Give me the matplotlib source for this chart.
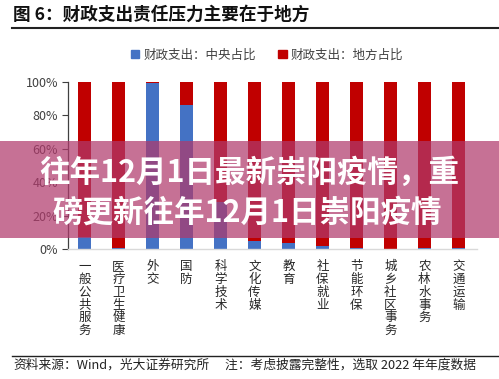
import matplotlib
matplotlib.use("Agg")
import matplotlib.pyplot as plt
import numpy as np
from matplotlib.patches import Patch, Rectangle
from matplotlib.lines import Line2D

plt.rcParams["font.family"] = ["Noto Sans CJK SC", "DejaVu Sans"]

# ========= 数据 =========
categories = ["一般公共服务", "医疗卫生健康", "外交", "国防", "科学技术", "文化传媒",
              "教育", "社保就业", "节能环保", "城乡社区事务", "农林水事务", "交通运输"]
central_share = [7.0, 0.8, 99.5, 86.0, 28.0, 4.5, 3.8, 2.0, 0.8, 0.3, 0.8, 0.8]
local_share = [100 - v for v in central_share]
yticks = [0, 20, 40, 60, 80, 100]

title = "图 6：财政支出责任压力主要在于地方"
legend_labels = ["财政支出：中央占比", "财政支出：地方占比"]
banner_lines = ["往年12月1日最新崇阳疫情，重", "磅更新往年12月1日崇阳疫情"]
source = "资料来源：Wind，光大证券研究所"
note = "注：考虑披露完整性，选取 2022 年年度数据"

blue = "#4472C4"
red = "#C00000"

# ========= 绘图 =========
fig = plt.figure(figsize=(4.99, 3.79), dpi=100)
ax = fig.add_axes([0.136, 0.343, 0.82, 0.441])

x = np.arange(len(categories))
ax.bar(x, central_share, width=0.39, color=blue, zorder=2)
ax.bar(x, local_share, width=0.39, bottom=central_share, color=red, zorder=2)

ax.set_xlim(-0.49, len(categories) - 0.45)
ax.set_ylim(0, 100)
ax.set_yticks(yticks)
ax.set_yticklabels([f"{v}%" for v in yticks], fontsize=9, color="#404040")
ax.tick_params(axis="y", length=4, width=0.8, color="#404040", pad=3)
ax.set_xticks(x)
ax.set_xticklabels(["\n".join(c) for c in categories], fontsize=9,
                   color="#262626", linespacing=0.98, va="top")
ax.tick_params(axis="x", length=0, pad=8)

for s in ["top", "right"]:
    ax.spines[s].set_visible(False)
ax.spines["left"].set_color("#404040")
ax.spines["left"].set_linewidth(0.9)
ax.spines["bottom"].set_color("#d9d9d9")
ax.spines["bottom"].set_linewidth(1.0)

# 标题
fig.text(0.026, 0.96, title, fontsize=12.7, fontweight="bold", color="#111111",
         ha="left", va="center")
fig.add_artist(Line2D([0.024, 1.0], [0.927, 0.927], color="#222222", lw=1.5))

# 图例
handles = [Patch(color=blue), Patch(color=red)]
fig.legend(handles, legend_labels, loc="center", bbox_to_anchor=(0.535, 0.855),
           ncol=2, frameon=False, fontsize=9, handlelength=0.7, handleheight=0.7,
           handletextpad=0.3, columnspacing=1.8, labelcolor="#404040")

# 底部来源
fig.add_artist(Line2D([0.024, 1.0], [0.061, 0.061], color="#222222", lw=1.0))
fig.text(0.026, 0.037, source, fontsize=9.2, color="#222222", ha="left", va="center")
fig.text(0.451, 0.037, note, fontsize=9.2, color="#222222", ha="left", va="center")

# 横幅
fig.add_artist(Rectangle((0, 0.372), 1, 0.256, transform=fig.transFigure,
                         facecolor="#b03a6c", alpha=0.72, edgecolor="none", zorder=5))
fig.text(0.5, 0.543, banner_lines[0], fontsize=22, fontweight="bold", color="white",
         ha="center", va="center", zorder=6)
fig.text(0.496, 0.44, banner_lines[1], fontsize=22, fontweight="bold", color="white",
         ha="center", va="center", zorder=6)

fig.savefig("out.png", dpi=100)
